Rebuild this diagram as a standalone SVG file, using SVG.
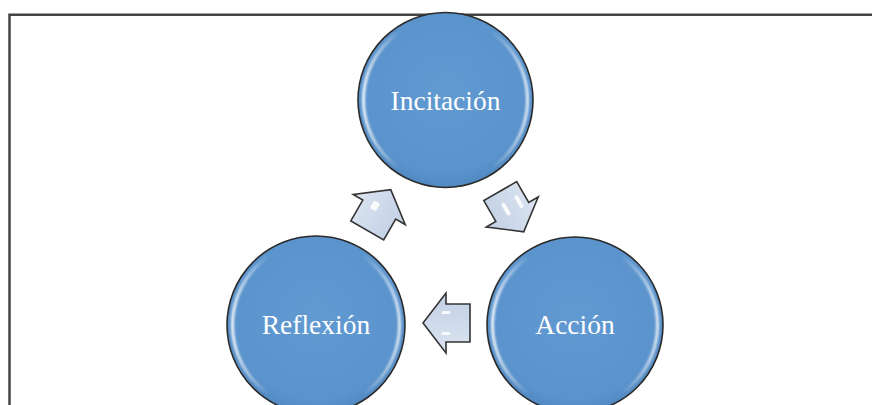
<svg xmlns="http://www.w3.org/2000/svg" width="872" height="405" viewBox="0 0 872 405">
  <defs>
    <linearGradient id="rim" x1="0" y1="0" x2="1" y2="0">
      <stop offset="0" stop-color="#ffffff" stop-opacity="0.9"/>
      <stop offset="0.22" stop-color="#ffffff" stop-opacity="0"/>
      <stop offset="0.78" stop-color="#ffffff" stop-opacity="0"/>
      <stop offset="1" stop-color="#ffffff" stop-opacity="0.8"/>
    </linearGradient>
    <radialGradient id="ball" cx="0.5" cy="0.45" r="0.55">
      <stop offset="0" stop-color="#6199d1"/>
      <stop offset="0.85" stop-color="#5b94cd"/>
      <stop offset="1" stop-color="#5088c1"/>
    </radialGradient>
    <linearGradient id="arrowFill" x1="0" y1="0" x2="0" y2="1">
      <stop offset="0" stop-color="#dbe4f1"/>
      <stop offset="1" stop-color="#c2d0e4"/>
    </linearGradient>
    <filter id="soft" x="-10%" y="-10%" width="120%" height="120%">
      <feGaussianBlur stdDeviation="0.8"/>
    </filter>
    <polygon id="arrowShape" points="-23.5,-19 0.5,-19 0.5,-30 23.5,0 0.5,30 0.5,19 -23.5,19"/>
  </defs>
  <style>
    .frame { stroke: #444444; stroke-width: 2.5; fill: none; }
    .ball { fill: url(#ball); stroke: #2b2b2b; stroke-width: 1.6; }
    .rim { fill: none; stroke: url(#rim); stroke-width: 3; filter: url(#soft); }
    .label { font-family: "Liberation Serif", "Times New Roman", serif; font-size: 27.5px; fill: #ffffff; text-anchor: middle; }
    .arrow { fill: url(#arrowFill); stroke: #333333; stroke-width: 1.6; stroke-linejoin: miter; }
    .hl { fill: #ffffff; opacity: 0.85; }
  </style>
  <rect width="872" height="405" fill="#ffffff"/>
  <path class="frame" d="M9.5,405 L9.5,14.7 L872,14.7"/>

  <g id="connectors">
    <g id="arrow-reflexion-incitacion" transform="translate(379,210) rotate(-60)">
      <use href="#arrowShape" class="arrow"/>
      <rect class="hl" x="-2" y="-10" width="7" height="9" rx="2" transform="rotate(90 1.5 -5.5)"/>
    </g>
    <g id="arrow-incitacion-accion" transform="translate(512,211.5) rotate(60)">
      <use href="#arrowShape" class="arrow"/>
      <rect class="hl" x="-12" y="-13" width="14" height="4" rx="2"/>
      <rect class="hl" x="-12" y="2" width="14" height="4" rx="2"/>
    </g>
    <g id="arrow-accion-reflexion" transform="translate(446.5,323) rotate(180)">
      <use href="#arrowShape" class="arrow"/>
      <rect class="hl" x="-4" y="-12" width="9" height="3" rx="1.5"/>
      <rect class="hl" x="-4" y="9" width="9" height="3" rx="1.5"/>
    </g>
  </g>

  <g id="node-incitacion">
    <circle class="ball" cx="445.5" cy="100" r="87.5"/>
    <circle class="rim" cx="445.5" cy="100" r="82"/>
    <text class="label" x="445.5" y="109.5">Incitación</text>
  </g>
  <g id="node-reflexion">
    <circle class="ball" cx="316" cy="325" r="89"/>
    <circle class="rim" cx="316" cy="325" r="83.5"/>
    <text class="label" x="316" y="333.5">Reflexión</text>
  </g>
  <g id="node-accion">
    <circle class="ball" cx="575" cy="325" r="88"/>
    <circle class="rim" cx="575" cy="325" r="82.5"/>
    <text class="label" x="575" y="333.5">Acción</text>
  </g>
</svg>
